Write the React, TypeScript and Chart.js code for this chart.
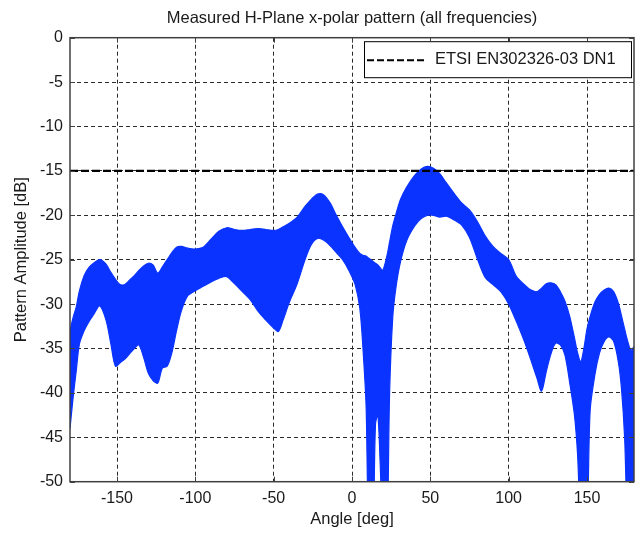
import React, { useEffect, useRef } from "react";
import { Chart, registerables } from "chart.js";

Chart.register(...registerables);

// ---- data ----
const angles = [
  -180, -178, -176, -174, -171, -168, -165, -161, -157, -154, -151, -148, -145, -142, -139, -136,
  -133, -130, -127, -124, -121, -118, -115, -112, -109, -105, -100, -95, -90, -85, -80, -75, -70,
  -65, -60, -55, -50, -47, -44, -40, -35, -30, -26, -22, -18, -14, -10, -6, -2, 2, 5, 7, 9, 10.5,
  12, 13.5, 15, 16.5, 18, 19.5, 21, 22.5, 24, 26, 28, 31, 35, 40, 44, 48, 52, 56, 60, 65, 70, 75,
  80, 85, 90, 95, 100, 105, 110, 114, 118, 121, 124, 127, 130, 133, 136, 139, 142, 144, 146, 148,
  150, 152, 155, 158, 161, 164, 167, 170, 172, 174, 176, 178, 180,
];

// upper edge of the band of all frequency traces
const upperEnvelope = [
  -33.0, -31.5, -30.3, -28.5, -26.8, -25.9, -25.4, -25.0, -25.5, -26.4, -27.2, -27.8, -27.8, -27.3,
  -26.8, -26.2, -25.7, -25.4, -25.6, -26.5, -25.8, -25.0, -24.2, -23.6, -23.5, -23.7, -23.8, -23.6,
  -22.7, -21.8, -21.4, -21.6, -21.7, -21.6, -21.5, -21.6, -21.7, -21.6, -21.3, -20.9, -20.2, -19.0,
  -18.2, -17.6, -17.7, -18.6, -20.0, -21.3, -22.5, -23.6, -24.3, -24.5, -24.6, -24.8, -25.0, -25.2,
  -25.4, -25.6, -25.9, -26.2, -25.5, -24.4, -23.0, -21.2, -19.9, -18.2, -16.8, -15.5, -14.8, -14.5,
  -14.7, -15.3, -16.3, -17.5, -18.6, -19.4, -20.7, -22.3, -23.5, -24.3, -25.0, -26.9, -27.8, -28.4,
  -28.6, -28.2, -27.7, -27.6, -27.8, -28.6, -29.7, -31.4, -33.8, -35.5, -36.5, -35.0, -32.8, -31.4,
  -29.8, -28.9, -28.4, -28.2, -28.6, -29.9, -31.3, -32.8, -34.2, -35.2, -34.8,
];

// lower edge of the band of all frequency traces
const lowerEnvelope = [
  -44.0, -40.5, -37.5, -34.5, -33.0, -32.0, -31.2, -30.2, -31.8, -34.4, -37.0, -36.6, -36.2, -35.6,
  -35.0, -34.6, -36.0, -37.8, -38.6, -38.9, -37.2, -37.0, -35.5, -33.0, -30.8, -29.1, -28.5, -28.0,
  -27.5, -27.1, -26.9, -27.7, -28.6, -29.5, -30.8, -31.8, -32.7, -33.1, -31.8, -29.8, -27.7, -25.0,
  -23.3, -22.6, -22.8, -23.4, -24.2, -25.0, -26.2, -27.8, -30.5, -35.0, -41.5, -55.0, -55.0, -55.0,
  -43.5, -42.5, -48.0, -55.0, -55.0, -55.0, -40.0, -31.5, -28.2, -25.2, -22.8, -21.2, -20.4, -20.0,
  -20.0, -20.2, -20.1, -20.5, -21.1, -22.5, -24.9, -27.0, -27.8, -28.6, -30.0, -32.0, -34.2, -36.2,
  -38.3, -39.8, -37.6, -35.6, -34.4, -34.6, -35.8, -38.9, -42.5, -47.0, -55.0, -55.0, -55.0, -42.0,
  -38.0, -35.5, -34.2, -33.7, -34.2, -36.5, -39.5, -45.0, -55.0, -55.0, -55.0,
];

const limitAngles = [-180, 180];
const limitValues = [-15, -15];

const xTickValues = [-150, -100, -50, 0, 50, 100, 150];
const yTickValues = [0, -5, -10, -15, -20, -25, -30, -35, -40, -45, -50];

const titleText = "Measured H-Plane x-polar pattern (all frequencies)";
const xLabel = "Angle [deg]";
const yLabel = "Pattern Amplitude [dB]";
const legendLabel = "ETSI EN302326-03 DN1";

const FONT = "'Liberation Sans', Arial, sans-serif";
const BLUE = "#0a33ff";
const TEXT = "#1a1a1a";
const FS = 16.5;

const decorPlugin = {
  id: "decor",
  afterDatasetsDraw(chart: any) {
    const { ctx, chartArea: a, scales } = chart;
    ctx.save();
    const seg = (x1: number, y1: number, x2: number, y2: number) => {
      ctx.beginPath();
      ctx.moveTo(x1, y1);
      ctx.lineTo(x2, y2);
      ctx.stroke();
    };
    // axes box
    ctx.setLineDash([]);
    ctx.strokeStyle = "#404040";
    ctx.lineWidth = 1.5;
    ctx.strokeRect(a.left, a.top, a.right - a.left, a.bottom - a.top);
    // inward tick marks on all four sides
    ctx.lineWidth = 1;
    for (const v of xTickValues) {
      const x = Math.round(scales.x.getPixelForValue(v)) + 0.5;
      seg(x, a.top, x, a.top + 5);
      seg(x, a.bottom, x, a.bottom - 5);
    }
    for (const v of yTickValues) {
      const y = Math.round(scales.y.getPixelForValue(v)) + 0.5;
      seg(a.left, y, a.left + 5, y);
      seg(a.right, y, a.right - 5, y);
    }
    // legend box
    const lw = 267;
    const lh = 36;
    const lx = a.right - 3 - lw;
    const ly = a.top + 3.5;
    ctx.fillStyle = "#ffffff";
    ctx.fillRect(lx, ly, lw, lh);
    ctx.strokeStyle = "#000";
    ctx.lineWidth = 1;
    ctx.strokeRect(lx + 0.5, ly + 0.5, lw, lh);
    ctx.lineWidth = 2;
    ctx.setLineDash([7, 3]);
    seg(lx + 3, ly + lh / 2 + 1, lx + 60, ly + lh / 2 + 1);
    ctx.setLineDash([]);
    ctx.fillStyle = TEXT;
    ctx.font = `${FS}px ${FONT}`;
    ctx.textBaseline = "middle";
    ctx.textAlign = "left";
    ctx.fillText(legendLabel, lx + 71, ly + lh / 2);
    // title centred over the axes
    ctx.textAlign = "center";
    ctx.fillText(titleText, (a.left + a.right) / 2, 18);
    ctx.restore();
  },
};

export default function App() {
  const canvasRef = useRef<HTMLCanvasElement | null>(null);

  useEffect(() => {
    const canvas = canvasRef.current;
    if (!canvas) return;
    const toPoints = (xs: number[], ys: number[]) => xs.map((x, i) => ({ x, y: ys[i] }));

    const chart = new Chart(canvas, {
      type: "line",
      data: {
        datasets: [
          {
            label: legendLabel,
            data: toPoints(limitAngles, limitValues),
            borderColor: "#000",
            borderWidth: 2.2,
            borderDash: [8, 3],
            pointRadius: 0,
            fill: false,
          },
          {
            label: "upper",
            data: toPoints(angles, upperEnvelope),
            borderColor: BLUE,
            backgroundColor: BLUE,
            borderWidth: 1.2,
            pointRadius: 0,
            tension: 0.3,
            fill: "+1",
          },
          {
            label: "lower",
            data: toPoints(angles, lowerEnvelope),
            borderColor: BLUE,
            borderWidth: 1.2,
            pointRadius: 0,
            tension: 0.3,
            fill: false,
          },
        ],
      },
      options: {
        animation: false,
        responsive: true,
        maintainAspectRatio: false,
        events: [],
        layout: { padding: { top: 37.7, right: 4, left: 0, bottom: 0 } },
        plugins: {
          legend: { display: false },
          tooltip: { enabled: false },
          title: { display: false },
        },
        scales: {
          x: {
            type: "linear",
            min: -180,
            max: 180,
            afterBuildTicks: (scale: any) => {
              scale.ticks = xTickValues.map((value) => ({ value }));
            },
            afterFit: (scale: any) => {
              scale.height = 51.3;
            },
            grid: {
              color: "#2a2a2a",
              lineWidth: 1,
              drawTicks: false,
            },
            border: { display: false, dash: [4, 3] },
            ticks: {
              padding: 7,
              color: TEXT,
              font: { family: FONT, size: 16 },
              maxRotation: 0,
            },
            title: {
              display: true,
              text: xLabel,
              color: TEXT,
              font: { family: FONT, size: FS },
              padding: { top: 0, bottom: 4 },
            },
          },
          y: {
            type: "linear",
            min: -50,
            max: 0,
            afterBuildTicks: (scale: any) => {
              scale.ticks = yTickValues.map((value) => ({ value }));
            },
            afterFit: (scale: any) => {
              scale.width = 70;
            },
            grid: {
              color: "#2a2a2a",
              lineWidth: 1,
              drawTicks: false,
            },
            border: { display: false, dash: [4, 3] },
            ticks: {
              padding: 7,
              color: TEXT,
              font: { family: FONT, size: 16 },
            },
            title: {
              display: true,
              text: yLabel,
              color: TEXT,
              font: { family: FONT, size: FS },
              padding: { top: 12, bottom: 0 },
            },
          },
        },
      },
      plugins: [decorPlugin],
    } as any);

    return () => chart.destroy();
  }, []);

  return (
    <div style={{ position: "fixed", left: 0, top: 0, width: 638, height: 533, background: "#fff" }}>
      <canvas ref={canvasRef} />
    </div>
  );
}
